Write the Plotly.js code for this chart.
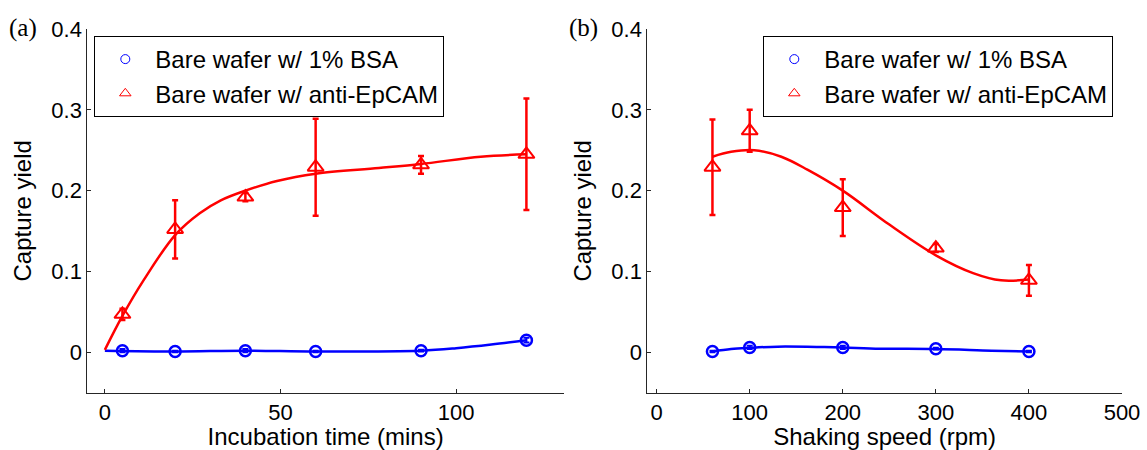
<!DOCTYPE html>
<html>
<head>
<meta charset="utf-8">
<script src="https://cdn.plot.ly/plotly-3.0.1.min.js"></script>
<style>html,body{margin:0;padding:0;background:#fff;}#chart{width:1147px;height:450px;}</style>
</head>
<body>
<div id="chart"></div>
<script>
// ---- Panel (a): incubation time ----
const timeX = [5, 20, 40, 60, 90, 120];
const timeBSA = [0.002, 0.001, 0.002, 0.001, 0.002, 0.015];
const timeBSAErr = [0.002, 0.001, 0.002, 0.001, 0.001, 0.003];
const timeEp = [0.047, 0.152, 0.192, 0.229, 0.232, 0.245];
const timeEpErr = [0.007, 0.036, 0.005, 0.060, 0.011, 0.069];
const timeFitX = [0, 5, 11, 20, 27, 33, 40, 49, 60, 78, 90, 107, 120];
const timeFitEp = [0.003, 0.045, 0.089, 0.145, 0.172, 0.188, 0.200, 0.212, 0.221, 0.228, 0.233, 0.242, 0.245];
const timeFitBSAX = [0, 20, 40, 60, 90, 100, 110, 120];
const timeFitBSA = [0.002, 0.001, 0.002, 0.001, 0.002, 0.005, 0.0095, 0.015];

// ---- Panel (b): shaking speed ----
const speedX = [60, 100, 200, 300, 400];
const speedBSA = [0.001, 0.006, 0.006, 0.0045, 0.001];
const speedBSAErr = [0.001, 0.002, 0.002, 0.001, 0.001];
const speedEp = [0.229, 0.274, 0.179, 0.129, 0.089];
const speedEpErr = [0.059, 0.026, 0.035, 0.005, 0.019];
const speedFitEpX = [60, 80, 105, 134, 162, 200, 250, 300, 340, 370, 400];
const speedFitEp = [0.242, 0.248, 0.250, 0.242, 0.226, 0.200, 0.158, 0.120, 0.098, 0.089, 0.090];
const speedFitBSAX = [60, 80, 100, 130, 180, 200, 240, 300, 360, 400];
const speedFitBSA = [0.001, 0.004, 0.0055, 0.007, 0.0065, 0.006, 0.0045, 0.004, 0.002, 0.001];

const legendNames = ['Bare wafer w/ 1% BSA', 'Bare wafer w/ anti-EpCAM'];
const panelLabels = ['(a)', '(b)'];
const yTitle = 'Capture yield';
const xTitles = ['Incubation time (mins)', 'Shaking speed (rpm)'];

const RED = '#ff0000', BLUE = '#0000ff';
const FONT = 'Liberation Sans, Arial, sans-serif';
const AX = '#262626';

function panel(xa, ya, leg, fx1, fy1, fx2, fy2, px, pB, pBe, pE, pEe) {
  return [
    {x: fx2, y: fy2, xaxis: xa, yaxis: ya, mode: 'lines', line: {color: BLUE, width: 2.5, shape: 'spline', smoothing: 1}, showlegend: false, hoverinfo: 'skip'},
    {x: fx1, y: fy1, xaxis: xa, yaxis: ya, mode: 'lines', line: {color: RED, width: 2.5, shape: 'spline', smoothing: 1}, showlegend: false, hoverinfo: 'skip'},
    {x: px, y: pB, xaxis: xa, yaxis: ya, mode: 'markers', showlegend: false,
     marker: {symbol: 'circle-open', size: 11, color: BLUE, line: {width: 2.5, color: BLUE}},
     error_y: {type: 'data', array: pBe, color: BLUE, thickness: 2, width: 3}},
    {x: px, y: pE, xaxis: xa, yaxis: ya, mode: 'markers', showlegend: false,
     marker: {symbol: 'triangle-up-open', size: 14, color: RED, line: {width: 2, color: RED}},
     error_y: {type: 'data', array: pEe, color: RED, thickness: 2.5, width: 3}},
    {x: [null], y: [null], xaxis: xa, yaxis: ya, mode: 'markers', name: legendNames[0], legend: leg,
     marker: {symbol: 'circle-open', size: 9, color: BLUE, line: {width: 1, color: BLUE}}},
    {x: [null], y: [null], xaxis: xa, yaxis: ya, mode: 'markers', name: legendNames[1], legend: leg,
     marker: {symbol: 'triangle-up-open', size: 10, color: RED, line: {width: 1, color: RED}}}
  ];
}

const data = [].concat(
  panel('x', 'y', 'legend', timeFitX, timeFitEp, timeFitBSAX, timeFitBSA, timeX, timeBSA, timeBSAErr, timeEp, timeEpErr),
  panel('x2', 'y2', 'legend2', speedFitEpX, speedFitEp, speedFitBSAX, speedFitBSA, speedX, speedBSA, speedBSAErr, speedEp, speedEpErr)
);

const W = 1147, H = 450;
const yDom = [1 - 392.7 / H, 1 - 29 / H];
function xax(dom, range, dtick, title) {
  return {domain: dom, range: range, dtick: dtick, tick0: 0, showgrid: false, zeroline: false,
    showline: true, linecolor: AX, linewidth: 1, ticks: 'inside', ticklen: 4, tickcolor: AX,
    tickfont: {family: FONT, size: 22, color: '#000'},
    title: {text: title, font: {family: FONT, size: 24, color: '#000'}, standoff: 4}, automargin: false};
}
function yax(anchor) {
  return {domain: yDom, range: [-0.05, 0.4], dtick: 0.1, tick0: 0, anchor: anchor, showgrid: false, zeroline: false,
    showline: true, linecolor: AX, linewidth: 1, ticks: 'inside', ticklen: 4, tickcolor: AX,
    tickfont: {family: FONT, size: 22, color: '#000'},
    title: {text: yTitle, font: {family: FONT, size: 24, color: '#000'}, standoff: 12}, automargin: false};
}
function leg(xpx) {
  return {x: xpx / W, y: 1 - 36 / H, xanchor: 'left', yanchor: 'top', bgcolor: '#fff',
    bordercolor: '#000', borderwidth: 1, itemwidth: 50, tracegroupgap: 0,
    font: {family: FONT, size: 24, color: '#000'}, itemclick: false};
}

const layout = {
  width: W, height: H, margin: {l: 0, r: 0, t: 0, b: 0},
  paper_bgcolor: '#fff', plot_bgcolor: '#fff', showlegend: true,
  xaxis: xax([87.3 / W, 564 / W], [-5, 130.7], 50, xTitles[0]),
  yaxis: yax('x'),
  xaxis2: xax([647.3 / W, 1122 / W], [-10, 500], 100, xTitles[1]),
  yaxis2: yax('x2'),
  legend: leg(94.3),
  legend2: leg(763.3),
  annotations: [
    {text: panelLabels[0], xref: 'paper', yref: 'paper', x: 7 / W, y: 1 - 27.5 / H, xanchor: 'left', yanchor: 'middle', showarrow: false, font: {family: 'Liberation Serif, Times New Roman, serif', size: 25, color: '#000'}},
    {text: panelLabels[1], xref: 'paper', yref: 'paper', x: 567 / W, y: 1 - 27.5 / H, xanchor: 'left', yanchor: 'middle', showarrow: false, font: {family: 'Liberation Serif, Times New Roman, serif', size: 25, color: '#000'}}
  ]
};

Plotly.newPlot('chart', data, layout, {staticPlot: true, displayModeBar: false});
</script>
</body>
</html>
